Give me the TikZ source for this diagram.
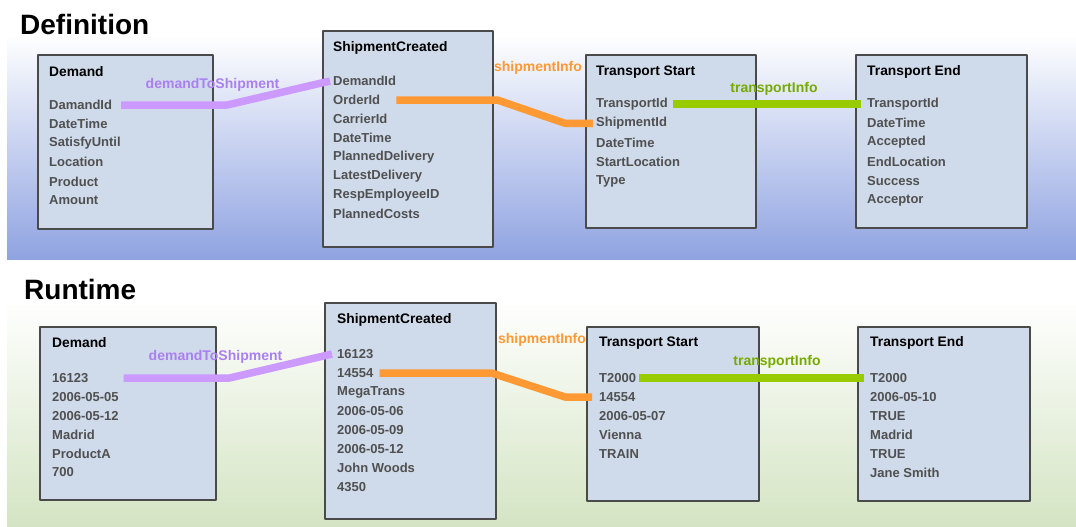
\documentclass[tikz,border=0pt]{standalone}
\usepackage{fontspec}
\setmainfont{Liberation Sans}
\definecolor{boxfill}{HTML}{CFDAEA}
\definecolor{boxline}{HTML}{4A4A4A}
\definecolor{fieldgray}{HTML}{505050}
\definecolor{defblue}{HTML}{8FA3E1}
\definecolor{defmid}{HTML}{D3DBF3}
\definecolor{rungreen}{HTML}{D4E4C3}
\definecolor{runmid}{HTML}{E7EFDD}
\definecolor{purpleline}{HTML}{CC99FF}
\definecolor{purpletext}{HTML}{AA80F0}
\definecolor{orangeline}{HTML}{FF9933}
\definecolor{greenline}{HTML}{99CC00}
\definecolor{greentext}{HTML}{77AA00}
\begin{document}
\begin{tikzpicture}[x=1pt,y=-1pt,line join=round,
	box/.style={draw=boxline,fill=boxfill,line width=1.4pt},
	head/.style={anchor=west,inner sep=0pt,font=\fontsize{13.8}{15}\selectfont\bfseries,text=black},
	field/.style={anchor=west,inner sep=0pt,font=\fontsize{13}{15}\selectfont\bfseries,text=fieldgray},
	link/.style={line width=7.5pt,line cap=butt},
	linklabel/.style={inner sep=0pt,font=\fontsize{14}{16}\selectfont\bfseries},
	part/.style={anchor=west,inner sep=0pt,font=\fontsize{28}{30}\selectfont\bfseries}]
	\useasboundingbox (0,0) rectangle (1076,527);
	\fill[white] (0,0) rectangle (1076,527);
	% Hintergrund
	\fill[top color=white,middle color=defmid,bottom color=defblue] (7,35) rectangle (1076,259);
	\fill[top color=white,middle color=runmid,bottom color=rungreen] (7,300) rectangle (1076,527);
	\node[part] (tDef) at (20,24) {Definition};
	\node[part] (tRun) at (24,289) {Runtime};
	
	%%% Definition
	\draw[box] (38,55) rectangle (213,229);
	\draw[box] (323,31) rectangle (493,247);
	\draw[box] (586,55) rectangle (756,228);
	\draw[box] (856,55) rectangle (1027,228);
	\node[head] (dHead) at (49,72) {Demand};
	\node[head] (sHead) at (333,48) {ShipmentCreated};
	\node[head] (tHead) at (596,72) {Transport Start};
	\node[head] (eHead) at (867,72) {Transport End};
	\foreach \f [count=\i] in {DamandId,DateTime,SatisfyUntil,Location,Product,Amount}
		\node[field] (dA\i) at (49,{105+19.1*(\i-1)}) {\f};
	\foreach \f [count=\i] in {DemandId,OrderId,CarrierId,DateTime,PlannedDelivery,LatestDelivery,RespEmployeeID,PlannedCosts}
		\node[field] (sA\i) at (333,{81+19*(\i-1)}) {\f};
	\foreach \f [count=\i] in {TransportId,ShipmentId,DateTime,StartLocation,Type}
		\node[field] (tA\i) at (596,{104+19.3*(\i-1)}) {\f};
	\foreach \f [count=\i] in {TransportId,DateTime,Accepted,EndLocation,Success,Acceptor}
		\node[field] (eA\i) at (867,{104+19.2*(\i-1)}) {\f};
	\draw[link,purpleline] ([xshift=9pt]dA1.east) -- ++(106,0) -- ([xshift=-3pt]sA1.west);
	\draw[link,orangeline] ([xshift=16pt]sA2.east) -- ++(101,0) -- ([xshift=-31pt]tA2.west) -- ([xshift=-3pt]tA2.west);
	\draw[link,greenline] ([xshift=5pt]tA1.east) -- ([xshift=-6pt]eA1.west);
	\node[linklabel,text=purpletext] (dLab) at (212.5,85) {demandToShipment};
	\node[linklabel,text=orangeline] (sLab) at (538,68) {shipmentInfo};
	\node[linklabel,text=greentext] (tLab) at (774,89) {transportInfo};
	
	%%% Runtime
	\draw[box] (40,327) rectangle (216,500);
	\draw[box] (325,303) rectangle (496,519);
	\draw[box] (587,327) rectangle (759,501);
	\draw[box] (858,327) rectangle (1030,501);
	\node[head] (rdHead) at (52,343) {Demand};
	\node[head] (rsHead) at (337,320) {ShipmentCreated};
	\node[head] (rtHead) at (599,343) {Transport Start};
	\node[head] (reHead) at (870,343) {Transport End};
	\foreach \f [count=\i] in {16123,2006-05-05,2006-05-12,Madrid,ProductA,700}
		\node[field] (rdA\i) at (52,{378+18.9*(\i-1)}) {\f};
	\foreach \f [count=\i] in {16123,14554,MegaTrans,2006-05-06,2006-05-09,2006-05-12,John Woods,4350}
		\node[field] (rsA\i) at (337,{354+19*(\i-1)}) {\f};
	\foreach \f [count=\i] in {T2000,14554,2006-05-07,Vienna,TRAIN}
		\node[field] (rtA\i) at (599,{378+19*(\i-1)}) {\f};
	\foreach \f [count=\i] in {T2000,2006-05-10,TRUE,Madrid,TRUE,Jane Smith}
		\node[field] (reA\i) at (870,{378+19*(\i-1)}) {\f};
	\draw[link,purpleline] ([xshift=35pt]rdA1.east) -- ++(106,0) -- ([xshift=-5pt]rsA1.west);
	\draw[link,orangeline] ([xshift=6pt]rsA2.east) -- ++(112,0) -- ([xshift=-34pt]rtA2.west) -- ([xshift=-7pt]rtA2.west);
	\draw[link,greenline] ([xshift=3pt]rtA1.east) -- ([xshift=-6pt]reA1.west);
	\node[linklabel,text=purpletext] (rdLab) at (215.5,357) {demandToShipment};
	\node[linklabel,text=orangeline] (rsLab) at (542,340) {shipmentInfo};
	\node[linklabel,text=greentext] (rtLab) at (777,362) {transportInfo};
\end{tikzpicture}
\end{document}
